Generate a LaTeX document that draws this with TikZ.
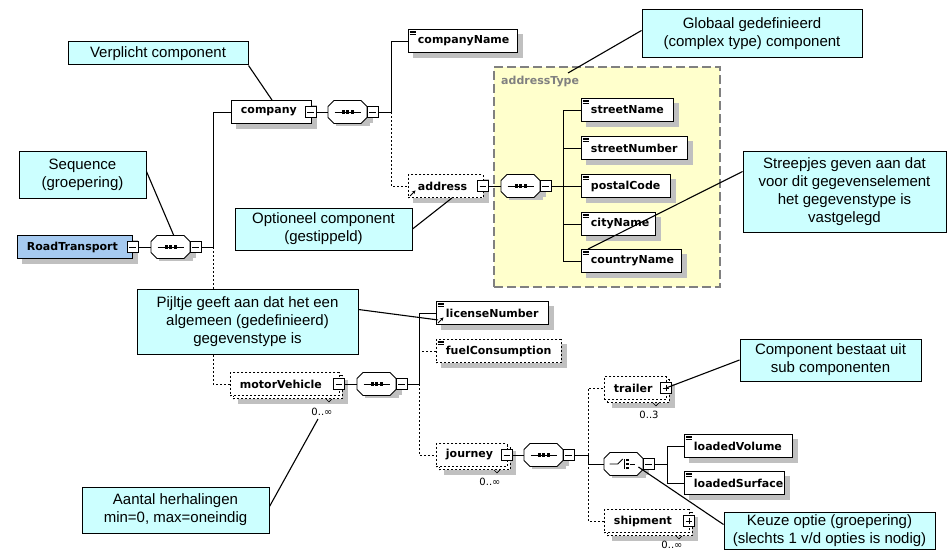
\documentclass[tikz,border=0pt]{standalone}
\usepackage{fontspec}
\setmainfont{Liberation Sans}
\newfontfamily\dejavu{DejaVu Sans}
\usetikzlibrary{calc,arrows.meta}
\definecolor{rtblue}{RGB}{166,202,240}
\definecolor{callc}{RGB}{204,255,255}
\definecolor{ylw}{RGB}{255,255,204}
\definecolor{frameg}{RGB}{128,128,128}
\definecolor{shadowgray}{RGB}{192,192,192}
\tikzset{
 elem/.style={draw=black,line width=0.9pt,fill=white,minimum height=23pt,inner xsep=9.5pt,inner ysep=0pt,anchor=west,font=\dejavu\bfseries\fontsize{11}{13}\selectfont},
 shadownode/.style={draw=shadowgray,line width=0.5pt,fill=shadowgray,minimum height=23pt,inner sep=0pt,anchor=west},
 opt/.style={dash pattern=on 2pt off 2pt},
 conn/.style={draw=black,line width=0.9pt},
 pmbox/.style={draw=black,fill=white,line width=0.8pt,minimum size=11pt,inner sep=0pt},
 octanode/.style={minimum width=39pt,minimum height=23pt,inner sep=0pt,anchor=west},
 callout/.style={draw=black,line width=1pt,fill=callc,align=center,font=\fontsize{15}{18}\selectfont,inner sep=0pt},
 leader/.style={draw=black,line width=1.1pt},
 mult/.style={font=\dejavu\fontsize{10}{12}\selectfont,inner sep=0pt},
 iconline/.style={line width=0.6pt},
}
\newcommand{\xminus}[2]{%
 \node[pmbox] (#1) at (#2) {};
 \draw[line width=0.8pt] ([xshift=2.5pt]#1.west) -- ([xshift=-2.5pt]#1.east);}
\newcommand{\xplus}[2]{\xminus{#1}{#2}%
 \draw[line width=0.8pt] ([yshift=-2.5pt]#1.north) -- ([yshift=2.5pt]#1.south);}
\newcommand{\elem}[6][]{%
 \pgfmathsetmacro{\elemtw}{#5-19}%
 \node[shadownode,minimum width=#5pt] (#2-shadow) at ({#3+5},{#4+5}) {};
 \node[elem,minimum width=#5pt,#1] (#2) at (#3,#4) {\makebox[\elemtw pt][l]{#6}};}
\newcommand{\multielem}[6][]{%
 \pgfmathsetmacro{\elemtw}{#5-19}%
 \node[shadownode,minimum width=#5pt] (#2-shadow) at ({#3+8},{#4+8}) {};
 \node[elem,opt,minimum width=#5pt,#1] (#2-back) at ({#3+3},{#4+3}) {};
 \node[elem,opt,minimum width=#5pt,#1] (#2) at (#3,#4) {\makebox[\elemtw pt][l]{#6}};
 \draw[line width=0.6pt] ($(#2-back.south east)+(-17,0)$) -- ++(3,3) -- ++(3,-3);}
\newcommand{\octa}[3]{% name, left x, centre y
 \node[shadownode,minimum width=33pt,minimum height=17pt] (#1-shadow) at ({#2+8},{#3+5}) {};
 \node[shadownode,minimum width=39pt,minimum height=11pt] (#1-shadowb) at ({#2+5},{#3+5}) {};
 \node[octanode] (#1) at (#2,#3) {};
 \draw[line width=0.9pt,fill=white] (#1.west) ++(0pt,5.5pt) -- ++(6pt,6pt) -- ++(27pt,0pt) -- ++(6pt,-6pt) -- ++(0pt,-11pt) -- ++(-6pt,-6pt) -- ++(-27pt,0pt) -- ++(-6pt,6pt) -- cycle;}
\newcommand{\seqsym}[1]{%
 \draw[line width=1pt] ([xshift=-13pt]#1.center) -- ([xshift=13pt]#1.center);
 \foreach \dx in {-4.5,0,4.5} \fill ([shift={(\dx pt-1.6pt,-1.6pt)}]#1.center) rectangle ++(3.2pt,3.2pt);}
\newcommand{\choicesym}[1]{%
 \draw[line width=0.9pt] ([xshift=-14pt]#1.center) -- ([xshift=-6pt]#1.center) -- ([shift={(-1pt,5pt)}]#1.center);
 \draw[line width=0.9pt] ([shift={(1pt,5pt)}]#1.center) -- ([shift={(1pt,-5pt)}]#1.center);
 \foreach \dy in {-4,0,4} \fill ([shift={(2.5pt,\dy pt-1.3pt)}]#1.center) rectangle ++(2.6pt,2.6pt);
 \draw[line width=0.9pt] ([xshift=6pt]#1.center) -- ([xshift=11pt]#1.center);}
\newcommand{\icon}[1]{\foreach \dy in {2,3.6,5.2} \draw[iconline] ([shift={(1.5pt,-\dy pt)}]#1.north west) -- ++(6pt,0pt);}
\newcommand{\refarrow}[1]{\draw[line width=0.9pt,-{Stealth[length=3.5pt,width=3.5pt]}] ([shift={(2pt,2pt)}]#1.south west) -- ++(5.5pt,5.5pt);}
\begin{document}
\begin{tikzpicture}[x=1pt,y=-1pt]
\useasboundingbox (0,0) rectangle (947,551);
\fill[white] (0,0) rectangle (947,551);
\node[draw=frameg,line width=1.2pt,dash pattern=on 9pt off 4pt,fill=ylw,minimum width=226pt,minimum height=220pt,inner sep=0pt] (atype) at (607,177) {};
\node[anchor=west,text=frameg,font=\dejavu\bfseries\fontsize{11}{13}\selectfont,inner sep=0pt] (atlabel) at (501,82) {addressType};

% root
\elem[fill=rtblue]{rt}{17}{247}{115}{RoadTransport}
\xminus{rt-pm}{132.5,247}
\octa{seq1}{151}{247}
\seqsym{seq1}
\xminus{seq1-pm}{195.5,247}
\coordinate (j1) at (213,247);

% company
\elem{company}{231}{112}{80}{company}
\xminus{company-pm}{310.5,112}
\octa{seq2}{328}{112}
\seqsym{seq2}
\xminus{seq2-pm}{372.5,112}
\coordinate (j2) at (391,112);
\elem{companyName}{408}{41}{109}{companyName}
\icon{companyName}
\elem[opt]{address}{408}{186}{75}{address}
\refarrow{address}
\xminus{address-pm}{483,186}
\octa{seq3}{501}{186}
\seqsym{seq3}
\xminus{seq3-pm}{545.5,186}
\coordinate (j3) at (563,186);
\elem{streetName}{581}{110}{92}{streetName}
\elem{streetNumber}{581}{148}{106}{streetNumber}
\elem{postalCode}{581}{186}{89}{postalCode}
\elem{cityName}{581}{224}{74}{cityName}
\elem{countryName}{581}{261}{100}{countryName}
\foreach \n in {streetName,streetNumber,postalCode,cityName,countryName} {\icon{\n}}

% motorVehicle
\multielem{motorVehicle}{230}{384}{109}{motorVehicle}
\xminus{mv-pm}{339,384}
\octa{seq4}{357}{384}
\seqsym{seq4}
\xminus{seq4-pm}{401.5,384}
\coordinate (j4) at (419,384);
\elem{licenseNumber}{436}{313}{112}{licenseNumber}
\icon{licenseNumber}
\refarrow{licenseNumber}
\elem[opt]{fuel}{436}{351}{125}{fuelConsumption}
\icon{fuel}
\multielem{journey}{436}{455}{71}{journey}
\xminus{journey-pm}{507,455}
\octa{seq5}{524}{455}
\seqsym{seq5}
\xminus{seq5-pm}{568.5,455}
\coordinate (j5) at (588,455);
\multielem{trailer}{604}{388}{62}{trailer}
\xplus{trailer-pm}{666,388}
\octa{choice}{604}{464}
\choicesym{choice}
\xminus{choice-pm}{648.5,464}
\coordinate (j6) at (667,464);
\elem{loadedVolume}{684}{446}{108}{loadedVolume}
\elem{loadedSurface}{684}{483}{100}{loadedSurface}
\icon{loadedVolume}
\icon{loadedSurface}
\multielem{shipment}{604}{521}{85}{shipment}
\xplus{shipment-pm}{689,521}

% multiplicities
\node[mult] (mv-mult) at (322,412) {0..∞};
\node[mult] (j-mult) at (490,482) {0..∞};
\node[mult] (tr-mult) at (649,415) {0..3};
\node[mult] (sh-mult) at (672,545) {0..∞};

% connectors
\draw[conn] (rt-pm.east) -- (seq1.west);
\draw[conn] (seq1-pm.east) -- (j1);
\draw[conn,opt] (j1) |- (motorVehicle.west);
\draw[conn] (j1) |- (company.west);
\draw[conn] (company-pm.east) -- (seq2.west);
\draw[conn] (seq2-pm.east) -- (j2);
\draw[conn,opt] (j2) |- (address.west);
\draw[conn] (j2) |- (companyName.west);
\draw[conn] (address-pm.east) -- (seq3.west);
\draw[conn] (seq3-pm.east) -- (j3);
\foreach \n in {streetName,streetNumber,postalCode,cityName,countryName} {\draw[conn] (j3) |- (\n.west);}
\draw[conn] (mv-pm.east) -- (seq4.west);
\draw[conn] (seq4-pm.east) -- (j4);
\draw[conn,opt] (j4) |- (journey.west);
\draw[conn,opt] (j4) |- (fuel.west);
\draw[conn] (j4) |- (licenseNumber.west);
\draw[conn] (journey-pm.east) -- (seq5.west);
\draw[conn] (seq5-pm.east) -- (j5);
\draw[conn,opt] (j5) |- (trailer.west);
\draw[conn,opt] (j5) |- (shipment.west);
\draw[conn] (j5) |- (choice.west);
\draw[conn] (choice-pm.east) -- (j6);
\draw[conn] (j6) |- (loadedVolume.west);
\draw[conn] (j6) |- (loadedSurface.west);

% callouts
\node[callout,minimum width=180pt,minimum height=23pt] (c1) at (158,53.5) {Verplicht component};
\node[callout,minimum width=127pt,minimum height=47pt] (c2) at (82.5,174.5) {Sequence\\(groepering)};
\node[callout,minimum width=177pt,minimum height=42pt] (c3) at (323.5,229) {Optioneel component\\(gestippeld)};
\node[callout,minimum width=220pt,minimum height=48pt] (c4) at (752,34) {Globaal gedefinieerd\\(complex type) component};
\node[callout,minimum width=203pt,minimum height=81pt] (c5) at (844.5,191.5) {Streepjes geven aan dat\\voor dit gegevenselement\\het gegevenstype is\\vastgelegd};
\node[callout,minimum width=221pt,minimum height=65pt] (c6) at (247.5,321.5) {Pijltje geeft aan dat het een\\algemeen (gedefinieerd)\\gegevenstype is};
\node[callout,minimum width=181pt,minimum height=42pt] (c7) at (830.5,360) {Component bestaat uit\\sub componenten};
\node[callout,minimum width=211pt,minimum height=37pt] (c8) at (829.5,530.5) {Keuze optie (groepering)\\(slechts 1 v/d opties is nodig)};
\node[callout,minimum width=187pt,minimum height=46pt] (c9) at (175.5,510) {Aantal herhalingen\\min=0, max=oneindig};
\coordinate (c4end) at (568,73);

% leaders
\draw[leader] (c1.south east) -- ($(company.north west)+(41,0)$);
\draw[leader] ($(c2.north east)+(0,21)$) -- ($(seq1.north)+(3,0)$);
\draw[leader] (c3.east) -- ($(address.south west)+(44,0)$);
\draw[leader] ($(c4.north west)+(0,21)$) -- (c4end);
\draw[leader] ($(c5.north west)+(0,21)$) -- ($(countryName.north west)+(7,0)$);
\draw[leader] ($(c6.north east)+(0,21)$) -- ($(licenseNumber.south west)+(2,-5)$);
\draw[leader] (c7.west) -- (trailer-pm.center);
\draw[leader] ($(c8.north west)+(0,13)$) -- ($(choice.east)+(-5,3)$);
\draw[leader] ($(c9.north east)+(0,20)$) -- ($(mv-mult.south)+(-4,3)$);
\end{tikzpicture}
\end{document}
